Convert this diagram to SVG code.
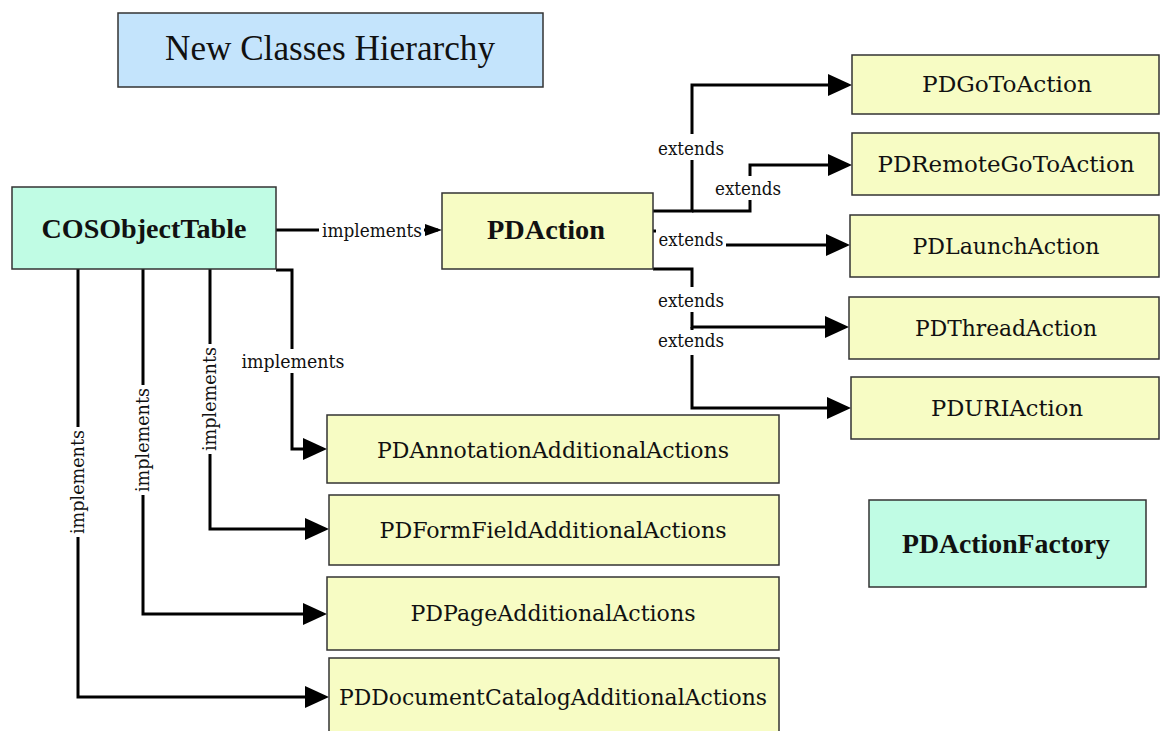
<svg xmlns="http://www.w3.org/2000/svg" width="1160" height="731" viewBox="0 0 1160 731">
<style>
.box{stroke:#333;stroke-width:1.5}
.y{fill:#f7fcc4}
.m{fill:#c0fce4}
.b{fill:#c4e4fc}
.nt{font-family:"DejaVu Serif",serif;font-size:22px;fill:#111;text-anchor:middle}
.bt{font-family:"Liberation Serif","Times New Roman",serif;font-size:28px;font-weight:bold;fill:#111;text-anchor:middle}
.tt{font-family:"Liberation Serif","Times New Roman",serif;font-size:35px;fill:#111;text-anchor:middle}
.lb{font-family:"DejaVu Serif",serif;font-size:18px;fill:#111;text-anchor:middle}
.c{fill:none;stroke:#000;stroke-width:3}
.bg{fill:#fff}
</style>
<defs>
<marker id="arr" viewBox="0 0 24 22" refX="20" refY="11" markerWidth="24" markerHeight="22" markerUnits="userSpaceOnUse" orient="auto">
<path d="M0,0 L24,11 L0,22 Z" fill="#000"/>
</marker>
<marker id="sarr" viewBox="0 0 17 12" refX="13" refY="6" markerWidth="17" markerHeight="12" markerUnits="userSpaceOnUse" orient="auto">
<path d="M0,0 L17,6 L0,12 Z" fill="#000"/>
</marker>
</defs>
<rect width="1160" height="731" fill="#fff"/>

<g id="connectors">
<path class="c" d="M276,230 H438" marker-end="url(#sarr)"/>
<path class="c" d="M653,211 H692 V85 H848" marker-end="url(#arr)"/>
<path class="c" d="M692,211 H750 V165 H848" marker-end="url(#arr)"/>
<path class="c" d="M653,231 H692 V245 H846" marker-end="url(#arr)"/>
<path class="c" d="M653,269 H692 V327 H845" marker-end="url(#arr)"/>
<path class="c" d="M692,327 V408 H847" marker-end="url(#arr)"/>
<path class="c" d="M276,270 H292 V449 H323" marker-end="url(#arr)"/>
<path class="c" d="M210,269 V529 H325" marker-end="url(#arr)"/>
<path class="c" d="M143,269 V614 H323" marker-end="url(#arr)"/>
<path class="c" d="M78,269 V697 H325" marker-end="url(#arr)"/>

<g id="labels">
<rect class="bg" x="319" y="218" width="105" height="24"/>
<text class="lb" x="372" y="237" textLength="100" lengthAdjust="spacingAndGlyphs">implements</text>

<rect class="bg" x="656" y="134" width="72" height="26"/>
<text class="lb" x="691" y="155" textLength="66" lengthAdjust="spacingAndGlyphs">extends</text>
<rect class="bg" x="714" y="176" width="72" height="24"/>
<text class="lb" x="748" y="195" textLength="66" lengthAdjust="spacingAndGlyphs">extends</text>
<rect class="bg" x="656" y="233" width="70" height="19"/>
<rect class="bg" x="656" y="226" width="40" height="8"/>
<text class="lb" x="691" y="246" textLength="65" lengthAdjust="spacingAndGlyphs">extends</text>
<rect class="bg" x="656" y="287" width="72" height="25"/>
<text class="lb" x="691" y="307" textLength="66" lengthAdjust="spacingAndGlyphs">extends</text>
<rect class="bg" x="656" y="330" width="72" height="25"/>
<text class="lb" x="691" y="347" textLength="66" lengthAdjust="spacingAndGlyphs">extends</text>

<rect class="bg" x="240" y="349" width="107" height="24"/>
<text class="lb" x="293" y="368" textLength="103" lengthAdjust="spacingAndGlyphs">implements</text>

<g transform="translate(210,399) rotate(-90)">
<rect class="bg" x="-55" y="-10" width="110" height="20"/>
<text class="lb" x="0" y="6" textLength="104" lengthAdjust="spacingAndGlyphs">implements</text>
</g>
<g transform="translate(143,440) rotate(-90)">
<rect class="bg" x="-55" y="-10" width="110" height="20"/>
<text class="lb" x="0" y="6" textLength="104" lengthAdjust="spacingAndGlyphs">implements</text>
</g>
<g transform="translate(78,482) rotate(-90)">
<rect class="bg" x="-55" y="-10" width="110" height="20"/>
<text class="lb" x="0" y="6" textLength="104" lengthAdjust="spacingAndGlyphs">implements</text>
</g>
</g>
</g>

<g id="title">
<rect class="box b" x="118" y="13" width="425" height="74"/>
<text class="tt" x="330" y="60" textLength="330" lengthAdjust="spacingAndGlyphs">New Classes Hierarchy</text>
</g>

<g id="COSObjectTable">
<rect class="box m" x="12" y="187" width="264" height="82"/>
<text class="bt" x="144" y="238" textLength="205" lengthAdjust="spacingAndGlyphs">COSObjectTable</text>
</g>

<g id="PDAction">
<rect class="box y" x="442" y="193" width="211" height="76"/>
<text class="bt" x="546" y="239" textLength="118" lengthAdjust="spacingAndGlyphs">PDAction</text>
</g>

<g id="PDGoToAction">
<rect class="box y" x="852" y="55" width="307" height="59"/>
<text class="nt" x="1007" y="92" textLength="170" lengthAdjust="spacingAndGlyphs">PDGoToAction</text>
</g>
<g id="PDRemoteGoToAction">
<rect class="box y" x="852" y="133" width="307" height="62"/>
<text class="nt" x="1006" y="172" textLength="257" lengthAdjust="spacingAndGlyphs">PDRemoteGoToAction</text>
</g>
<g id="PDLaunchAction">
<rect class="box y" x="850" y="215" width="309" height="62"/>
<text class="nt" x="1006" y="254" textLength="187" lengthAdjust="spacingAndGlyphs">PDLaunchAction</text>
</g>
<g id="PDThreadAction">
<rect class="box y" x="849" y="297" width="310" height="62"/>
<text class="nt" x="1006" y="336" textLength="182" lengthAdjust="spacingAndGlyphs">PDThreadAction</text>
</g>
<g id="PDURIAction">
<rect class="box y" x="851" y="377" width="308" height="62"/>
<text class="nt" x="1007" y="416" textLength="152" lengthAdjust="spacingAndGlyphs">PDURIAction</text>
</g>

<g id="PDActionFactory">
<rect class="box m" x="869" y="500" width="277" height="87"/>
<text class="bt" x="1006" y="553" textLength="208" lengthAdjust="spacingAndGlyphs">PDActionFactory</text>
</g>

<g id="PDAnnotationAdditionalActions">
<rect class="box y" x="327" y="415" width="452" height="68"/>
<text class="nt" x="553" y="458" textLength="352" lengthAdjust="spacingAndGlyphs">PDAnnotationAdditionalActions</text>
</g>
<g id="PDFormFieldAdditionalActions">
<rect class="box y" x="329" y="495" width="450" height="70"/>
<text class="nt" x="553" y="538" textLength="347" lengthAdjust="spacingAndGlyphs">PDFormFieldAdditionalActions</text>
</g>
<g id="PDPageAdditionalActions">
<rect class="box y" x="327" y="577" width="452" height="73"/>
<text class="nt" x="553" y="621" textLength="285" lengthAdjust="spacingAndGlyphs">PDPageAdditionalActions</text>
</g>
<g id="PDDocumentCatalogAdditionalActions">
<rect class="box y" x="329" y="658" width="450" height="82"/>
<text class="nt" x="553" y="705" textLength="428" lengthAdjust="spacingAndGlyphs">PDDocumentCatalogAdditionalActions</text>
</g>
</svg>
